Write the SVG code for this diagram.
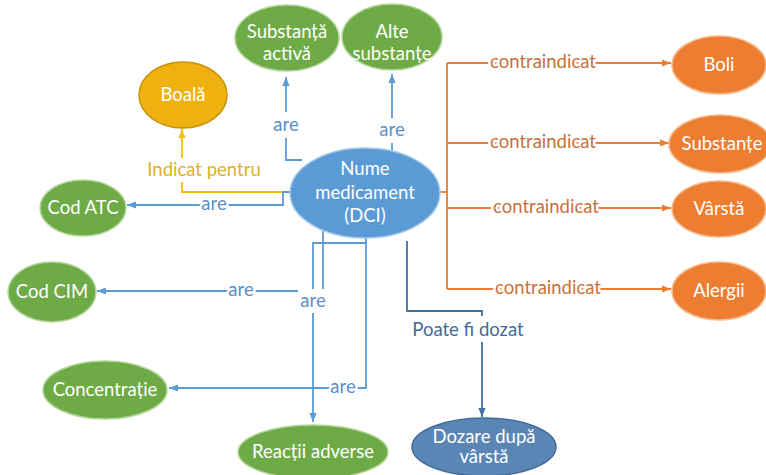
<svg xmlns="http://www.w3.org/2000/svg" width="766" height="475" viewBox="0 0 766 475">
  <style>
    text { font-family: Lato, "Open Sans", "Liberation Sans", sans-serif; font-size: 18.5px; text-anchor: middle; }
    .nt { fill: #ffffff; }
    .green { fill: #6eab46; stroke: #b5d69c; stroke-width: 1.5; }
    .blue { fill: #5b9bd5; stroke: #a9cbea; stroke-width: 1.5; }
    .orange { fill: #ed7d31; stroke: #f6b98c; stroke-width: 1.5; }
    .gold { fill: #efb110; stroke: #c8920a; stroke-width: 1.5; }
    .navy { fill: #5a86b6; stroke: #3f6c98; stroke-width: 1.5; }
    .c { fill: none; stroke-width: 1.8; }
    .cb { stroke: #5b9bd5; }
    .cy { stroke: #f2bd14; }
    .co { stroke: #ed7d31; }
    .cn { stroke: #43719e; }
    .lb { fill: #5a8fc8; }
    .ly { fill: #e0b11e; }
    .lo { fill: #c9703a; }
    .ln { fill: #3f6b98; }
    .halo { stroke: #ffffff; stroke-width: 5; paint-order: stroke; stroke-linejoin: round; }
    .ko { fill: #ffffff; }
  </style>
  <defs>
    <marker id="ab" viewBox="0 0 10 10" refX="10" refY="5" markerWidth="9" markerHeight="9" markerUnits="userSpaceOnUse" orient="auto">
      <path d="M0,1 L10,5 L0,9 z" fill="#5b9bd5"/>
    </marker>
    <marker id="ay" viewBox="0 0 10 10" refX="10" refY="5" markerWidth="9" markerHeight="9" markerUnits="userSpaceOnUse" orient="auto">
      <path d="M0,1 L10,5 L0,9 z" fill="#f2bd14"/>
    </marker>
    <marker id="ao" viewBox="0 0 10 10" refX="10" refY="5" markerWidth="9" markerHeight="9" markerUnits="userSpaceOnUse" orient="auto">
      <path d="M0,1 L10,5 L0,9 z" fill="#ed7d31"/>
    </marker>
    <marker id="an" viewBox="0 0 10 10" refX="10" refY="5" markerWidth="9" markerHeight="9" markerUnits="userSpaceOnUse" orient="auto">
      <path d="M0,1 L10,5 L0,9 z" fill="#43719e"/>
    </marker>
  </defs>

  <rect width="766" height="475" fill="#ffffff"/>

  <!-- connectors -->
  <g id="connectors">
    <!-- are: Substanță activă / Alte substanțe -->
    <path class="c cb" d="M302,160 H286 V77" marker-end="url(#ab)"/>
    <path class="c cb" d="M392,151 V74" marker-end="url(#ab)"/>
    <!-- Indicat pentru: Boală -->
    <path class="c cy" d="M292,192 H182 V129" marker-end="url(#ay)"/>
    <!-- are: Cod ATC -->
    <path class="c cb" d="M292,192 H283 V205 H127" marker-end="url(#ab)"/>
    <!-- are: Cod CIM -->
    <path class="c cb" d="M323,231 V291 H97" marker-end="url(#ab)"/>
    <!-- are: Reacții adverse -->
    <path class="c cb" d="M366,237 V243 H313 V422" marker-end="url(#ab)"/>
    <!-- are: Concentrație -->
    <path class="c cb" d="M366,237 V388 H169" marker-end="url(#ab)"/>
    <!-- Poate fi dozat: Dozare după vârstă -->
    <path class="c cn" d="M407,241 V311 H482 V417" marker-end="url(#an)"/>
    <!-- contraindicat -->
    <path class="c co" d="M440,192 H447"/>
    <path class="c co" d="M447,63 V289"/>
    <path class="c co" d="M447,63 H671" marker-end="url(#ao)"/>
    <path class="c co" d="M447,143 H669" marker-end="url(#ao)"/>
    <path class="c co" d="M447,208 H671" marker-end="url(#ao)"/>
    <path class="c co" d="M447,289 H671" marker-end="url(#ao)"/>

    <!-- label backgrounds on vertical runs -->
    <rect class="ko" x="271" y="112" width="30" height="26"/>
    <rect class="ko" x="377" y="118" width="30" height="25"/>
    <rect class="ko" x="145" y="158" width="118" height="24"/>
    <rect class="ko" x="298" y="289" width="30" height="24"/>
    <rect class="ko" x="410" y="316" width="118" height="26"/>

    <!-- labels -->
    <text class="lb" x="286" y="131">are</text>
    <text class="lb" x="392" y="136">are</text>
    <text class="ly" x="204" y="176">Indicat pentru</text>
    <text class="lb halo" x="214" y="210">are</text>
    <text class="lb halo" x="241" y="296">are</text>
    <text class="lb" x="313" y="307">are</text>
    <text class="lb halo" x="343" y="393">are</text>
    <text class="ln" x="468" y="336">Poate fi dozat</text>
    <text class="lo halo" x="543" y="68">contraindicat</text>
    <text class="lo halo" x="543" y="148">contraindicat</text>
    <text class="lo halo" x="546" y="213">contraindicat</text>
    <text class="lo halo" x="548" y="294">contraindicat</text>
  </g>

  <!-- nodes -->
  <g id="nume-medicament">
    <ellipse class="blue" cx="365" cy="193" rx="75" ry="45"/>
    <text class="nt" x="365" y="175">Nume</text>
    <text class="nt" x="365" y="199">medicament</text>
    <text class="nt" x="365" y="222">(DCI)</text>
  </g>
  <g id="substanta-activa">
    <ellipse class="green" cx="287" cy="38" rx="52" ry="33"/>
    <text class="nt" x="287" y="38">Substanță</text>
    <text class="nt" x="287" y="60">activă</text>
  </g>
  <g id="alte-substante">
    <ellipse class="green" cx="392" cy="37" rx="50" ry="33"/>
    <text class="nt" x="392" y="38">Alte</text>
    <text class="nt" x="392" y="60">substanțe</text>
  </g>
  <g id="boala">
    <ellipse class="gold" cx="183" cy="95" rx="44" ry="33"/>
    <text class="nt" x="183" y="101">Boală</text>
  </g>
  <g id="cod-atc">
    <ellipse class="green" cx="83" cy="208" rx="43" ry="28"/>
    <text class="nt" x="83" y="214">Cod ATC</text>
  </g>
  <g id="cod-cim">
    <ellipse class="green" cx="52" cy="292" rx="44" ry="30"/>
    <text class="nt" x="52" y="298">Cod CIM</text>
  </g>
  <g id="concentratie">
    <ellipse class="green" cx="105" cy="390" rx="62" ry="29"/>
    <text class="nt" x="105" y="396">Concentrație</text>
  </g>
  <g id="reactii-adverse">
    <ellipse class="green" cx="313" cy="452" rx="75" ry="27"/>
    <text class="nt" x="313" y="458">Reacții adverse</text>
  </g>
  <g id="dozare-dupa-varsta">
    <ellipse class="navy" cx="484" cy="447" rx="72" ry="29"/>
    <text class="nt" x="484" y="443">Dozare după</text>
    <text class="nt" x="484" y="463">vârstă</text>
  </g>
  <g id="boli">
    <ellipse class="orange" cx="719" cy="65" rx="47" ry="29"/>
    <text class="nt" x="719" y="71">Boli</text>
  </g>
  <g id="substante">
    <ellipse class="orange" cx="720" cy="144" rx="51" ry="29"/>
    <text class="nt" x="722" y="150">Substanțe</text>
  </g>
  <g id="varsta">
    <ellipse class="orange" cx="719" cy="209" rx="47" ry="28"/>
    <text class="nt" x="719" y="215">Vârstă</text>
  </g>
  <g id="alergii">
    <ellipse class="orange" cx="719" cy="291" rx="47" ry="29"/>
    <text class="nt" x="719" y="297">Alergii</text>
  </g>
</svg>
